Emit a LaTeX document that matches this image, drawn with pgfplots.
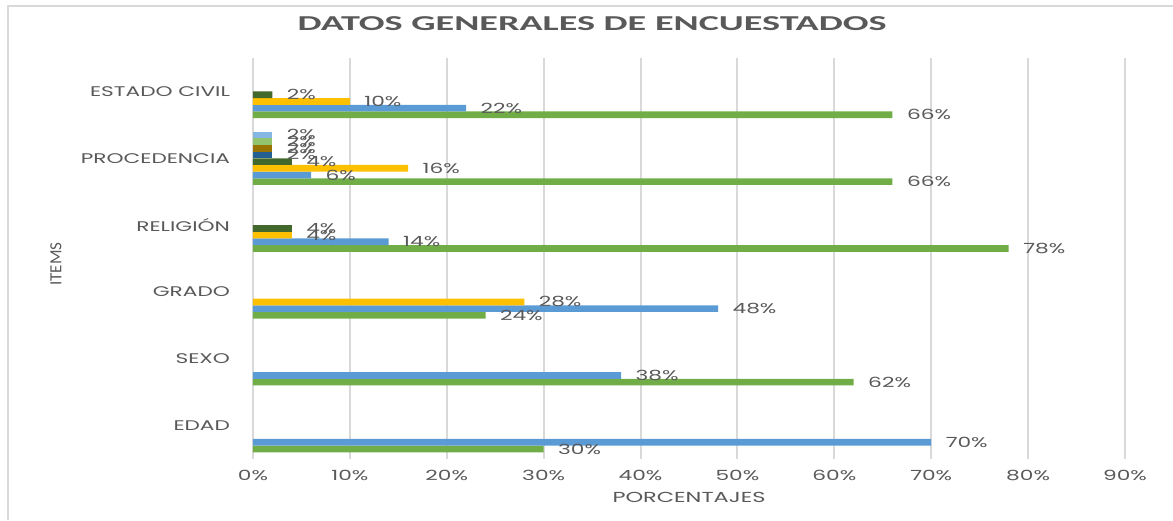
\documentclass[border=0pt]{standalone}
\usepackage{fontspec}
\usepackage{pgfplots}
\pgfplotsset{compat=1.18}
\newfontfamily\tickfont[FakeStretch=1.55]{Poppins}
\newfontfamily\titlefont[FakeStretch=1.8]{Carlito}
\newfontfamily\ylabfont{Carlito}
\definecolor{txtgray}{HTML}{595959}
\definecolor{gridgray}{HTML}{D9D9D9}
\definecolor{cA}{HTML}{70AD47}
\definecolor{cB}{HTML}{5B9BD5}
\definecolor{cC}{HTML}{FFC000}
\definecolor{cD}{HTML}{43682B}
\definecolor{cE}{HTML}{255E91}
\definecolor{cF}{HTML}{997300}
\definecolor{cG}{HTML}{92C36E}
\definecolor{cH}{HTML}{86B7E3}
\begin{document}
\begin{tikzpicture}[x=1pt,y=1pt]
\useasboundingbox (0,0) rectangle (1173,520);
\draw[gridgray, line width=1.5pt] (8,0) -- (8,514) -- (1173,514);
\begin{axis}[
  at={(253pt,61pt)}, anchor=south west,
  scale only axis, width=872pt, height=401pt,
  xbar, bar width=0.1,
  xmin=0, xmax=90, ymin=-0.5, ymax=5.5,
  xtick={0,10,...,90},
  xticklabel={\pgfmathprintnumber{\tick}\%},
  ytick={0,1,2,3,4,5},
  yticklabels={EDAD,SEXO,GRADO,RELIGIÓN,PROCEDENCIA,ESTADO CIVIL},
  xmajorgrids, grid style={draw=gridgray, line width=2pt},
  axis line style={draw=none}, major tick length=0pt,
  /pgf/number format/assume math mode=true,
  ticklabel style={font=\tickfont\fontsize{14}{15}\selectfont, text=txtgray},
  xticklabel style={anchor=base, yshift=-21.75pt},
  yticklabel style={anchor=east, xshift=-19.5pt},
  title={DATOS GENERALES DE ENCUESTADOS},
  title style={at={(axis description cs:0.389,1.0698)}, anchor=center,
    font=\titlefont\bfseries\fontsize{21.2}{22}\selectfont, text=txtgray},
  xlabel={PORCENTAJES},
  xlabel style={at={(axis description cs:0.5,-0.0948)}, anchor=center,
    font=\tickfont\fontsize{14.5}{15}\selectfont, text=txtgray},
  ylabel={ITEMS},
  ylabel style={at={(axis description cs:-0.226,0.486)}, anchor=center,
    font=\ylabfont\fontsize{17}{18}\selectfont, text=txtgray},
  nodes near coords={\pgfmathprintnumber{\pgfplotspointmeta}\%},
  nodes near coords style={font=\tickfont\fontsize{14}{15}\selectfont,
    text=txtgray, anchor=west, xshift=11pt},
]
\addplot[fill=cA, draw=none, bar shift=-0.35] coordinates {(30,0) (62,1) (24,2) (78,3) (66,4) (66,5)};
\addplot[fill=cB, draw=none, bar shift=-0.25] coordinates {(70,0) (38,1) (48,2) (14,3) (6,4) (22,5)};
\addplot[fill=cC, draw=none, bar shift=-0.15] coordinates {(28,2) (4,3) (16,4) (10,5)};
\addplot[fill=cD, draw=none, bar shift=-0.05] coordinates {(4,3) (4,4) (2,5)};
\addplot[fill=cE, draw=none, bar shift=0.05] coordinates {(2,4)};
\addplot[fill=cF, draw=none, bar shift=0.15] coordinates {(2,4)};
\addplot[fill=cG, draw=none, bar shift=0.25] coordinates {(2,4)};
\addplot[fill=cH, draw=none, bar shift=0.35] coordinates {(2,4)};
\end{axis}
\end{tikzpicture}
\end{document}
